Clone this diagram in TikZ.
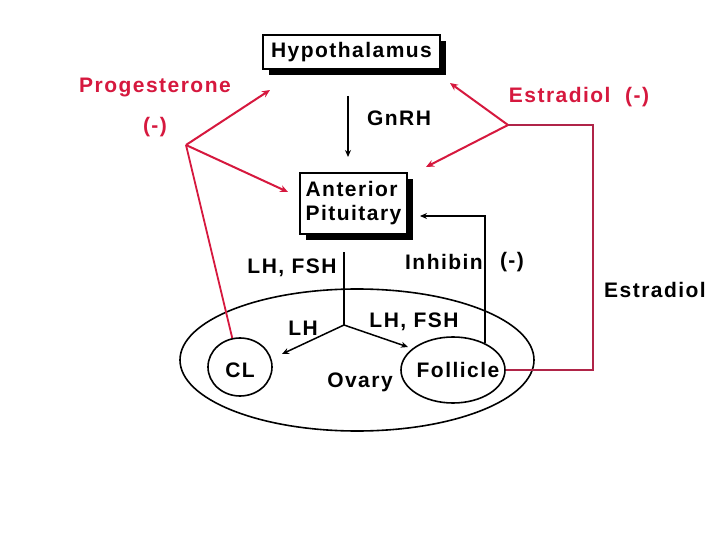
\documentclass[tikz,border=0pt]{standalone}
\usepackage{fontspec}
\setmainfont{Liberation Sans}[LetterSpace=7]
\usetikzlibrary{arrows.meta,shapes.geometric,shadows}
\definecolor{pred}{RGB}{214,24,62}
\definecolor{pdark}{RGB}{176,36,72}
\begin{document}
\begin{tikzpicture}[x=1pt,y=-1pt,
  lbl/.style={font=\fontsize{21}{24}\selectfont\bfseries, inner sep=0pt},
  lblr/.style={lbl, text=pred},
  sbox/.style={draw=black, fill=white, line width=1.3pt, inner sep=0pt,
     drop shadow={shadow xshift=6pt, shadow yshift=-6pt, fill=black, opacity=1}},
  ell/.style={ellipse, draw=black, line width=1.6pt, inner sep=0pt},
  blk/.style={line width=1.5pt, -{Stealth[length=7pt,width=6pt]}},
  redarr/.style={draw=pred, line width=2pt, -{Stealth[length=8pt,width=7pt]}},
  redln/.style={draw=pred, line width=1.8pt},
]
\useasboundingbox[fill=white] (0,0) rectangle (720,540);

% boxes
\node[sbox, minimum width=177pt, minimum height=34pt, lbl] (hyp) at (351.5,52) {Hypothalamus};
\node[sbox, minimum width=107pt, minimum height=61pt, lbl, align=left] (ap) at (353.5,203.5) {Anterior\\Pituitary};

% ellipses
\node[ell, minimum width=354pt, minimum height=142pt] (ov) at (357,360) {};
\node[ell, minimum width=64pt, minimum height=58pt] (cl) at (240,367) {};
\node[ell, minimum width=104pt, minimum height=66pt] (fol) at (453,370) {};

% labels
\node[lblr] (prog) at (155,88) {Progesterone};
\node[lblr] (progm) at (155,127) {(-)};
\node[lbl] (gnrh) at (399,118) {GnRH};
\node[lblr] (estm) at (579,97) {Estradiol\ \ (-)};
\node[lbl] (est) at (655,290) {Estradiol};
\node[lbl] (inh) at (444,262) {Inhibin};
\node[lbl] (inhm) at (512,262) {(-)};
\node[lbl] (lhfsh) at (292,268) {LH, FSH};
\node[lbl] (lh) at (303,328) {LH};
\node[lbl] (lhfsh2) at (414,322) {LH, FSH};
\node[lbl] (cltxt) at (240,370) {CL};
\node[lbl] (ovtxt) at (360,382) {Ovary};
\node[lbl] (foltxt) at (458,370) {Follicle};

% coordinates
\coordinate (gtop) at (348,96);
\coordinate (gbot) at (348,157);
\coordinate (pj) at (186,145);
\coordinate (pa1) at (270,90);
\coordinate (pa2) at (288,192);
\coordinate (ej) at (508,125);
\coordinate (ea1) at (450,83);
\coordinate (ea2) at (426,167);
\coordinate (ec) at (593,125);
\coordinate (ib) at (420,216);
\coordinate (ltop) at (344,252);
\coordinate (lj) at (344,325);
\coordinate (la1) at (282,354);
\coordinate (la2) at (408,347);

% black connectors
\draw[blk] (gtop) -- (gbot);
\draw[line width=1.5pt] (ltop) -- (lj);
\draw[blk] (lj) -- (la1);
\draw[blk] (lj) -- (la2);
\draw[blk] (fol.40) |- (ib);

% red connectors
\draw[redarr] (pj) -- (pa1);
\draw[redarr] (pj) -- (pa2);
\draw[redln] (pj) -- (cl.105);
\draw[redarr] (ej) -- (ea1);
\draw[redarr] (ej) -- (ea2);
\draw[draw=pdark, line width=1.8pt] (fol.east) -| (ec) -- (ej);
\end{tikzpicture}
\end{document}
